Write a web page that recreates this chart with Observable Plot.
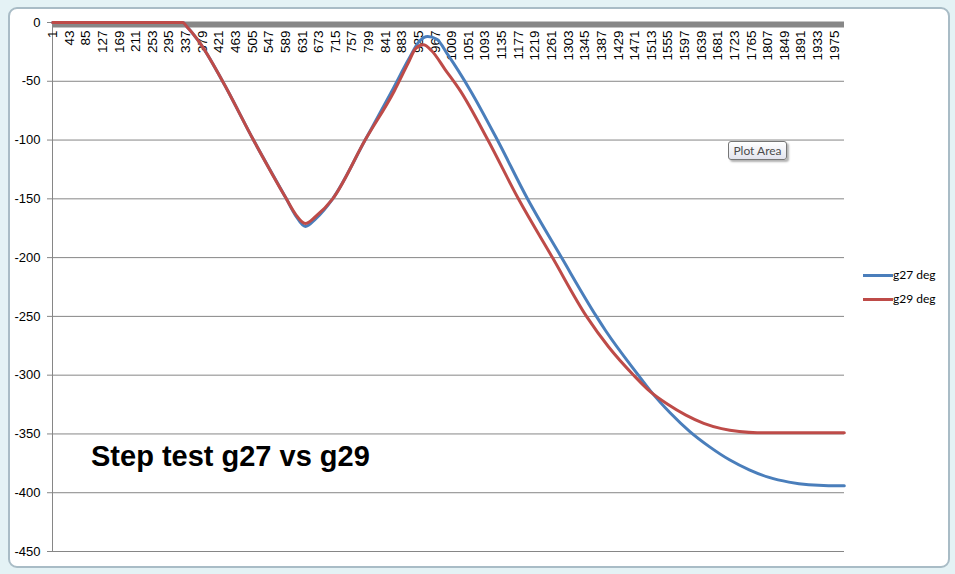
<!DOCTYPE html>
<html><head><meta charset="utf-8">
<script src="https://cdn.jsdelivr.net/npm/d3@7"></script>
<script src="https://cdn.jsdelivr.net/npm/@observablehq/plot@0.6"></script>
<style>
body{margin:0;background:#e4f2f5;}
#wrap{position:relative;width:955px;height:574px;overflow:hidden;background:#e4f2f5;}
#frame{position:absolute;left:8px;top:7px;width:938px;height:557px;background:#fff;border:2px solid #a9bcc6;border-radius:9px;}
#chart{position:absolute;left:0;top:0;}
#title{position:absolute;left:91px;top:442px;font:bold 29px "Liberation Sans",Arial,sans-serif;line-height:29px;color:#000;white-space:nowrap;}
.sw{position:absolute;left:863px;width:30px;height:3px;}
.lt{position:absolute;left:893px;font:12px Lato,sans-serif;line-height:14px;color:#000;white-space:nowrap;}
#tip{position:absolute;left:728px;top:141px;width:57px;height:17px;border:1px solid #767676;border-radius:3px;background:linear-gradient(#ffffff,#e3e4ee);box-shadow:2px 2px 2px rgba(0,0,0,0.3);font:12px Lato,sans-serif;line-height:17px;text-align:center;color:#4c4c4c;}
</style>
</head><body>
<div id="wrap">
  <div id="frame"></div>
  <div id="chart"></div>
  <div id="title">Step test g27 vs g29</div>
  <div class="sw" style="top:274px;background:#4A7EBB"></div>
  <div class="lt" style="top:268px">g27 deg</div>
  <div class="sw" style="top:298px;background:#BE4B48"></div>
  <div class="lt" style="top:292px">g29 deg</div>
  <div id="tip">Plot Area</div>
</div>
<script>
const xTickLabels = [1,43,85,127,169,211,253,295,337,379,421,463,505,547,589,631,673,715,757,799,841,883,925,967,1009,1051,1093,1135,1177,1219,1261,1303,1345,1387,1429,1471,1513,1555,1597,1639,1681,1723,1765,1807,1849,1891,1933,1975];
const yTicks = [0,-50,-100,-150,-200,-250,-300,-350,-400,-450];

const g27Index = [1,329,341,374,430,508,591,614,639,665,708,790,858,902,927,948,970,1000,1056,1124,1200,1286,1374,1397,1480,1512,1560,1610,1660,1710,1760,1810,1860,1910,1960,2000];
const g27Deg   = [0,0,-4,-18,-50,-100,-150,-164,-173.5,-167,-150,-100,-58,-30,-16,-12,-14,-28,-58,-100,-150,-200,-250,-262,-300,-314,-332,-348,-361,-372,-380.5,-387,-391,-393.3,-394,-394];

const g29Index = [1,329,341,374,430,508,591,614,639,665,708,790,864,898,918,937,958,992,1030,1100,1177,1263,1349,1405,1468,1510,1555,1600,1645,1690,1735,1780,2000];
const g29Deg   = [0,0,-4,-18,-50,-100,-150,-163,-171,-165,-150,-100,-58,-35,-22,-19,-24,-40,-58,-100,-150,-200,-250,-276,-300,-314,-325,-334,-341,-345.5,-348,-349,-349];

const s27 = g27Index.map((i,k)=>({i, v:g27Deg[k]}));
const s29 = g29Index.map((i,k)=>({i, v:g29Deg[k]}));

const FONT = "'Liberation Sans', Arial, sans-serif";
const chart = Plot.plot({
  width: 955, height: 574,
  marginLeft: 52, marginRight: 111, marginTop: 22, marginBottom: 23,
  style: {background: "transparent", fontFamily: FONT, fontSize: "12px", color: "#000"},
  x: {type: "linear", domain: [0.5, 2000.5], axis: null},
  y: {domain: [-450, 0], axis: null},
  marks: [
    Plot.ruleY(yTicks.filter(d => d !== 0), {stroke: "#868686", strokeWidth: 1}),
    Plot.ruleX([0.5], {stroke: "#868686", strokeWidth: 1}),
    Plot.axisY({ticks: yTicks, label: null, tickSize: 5, tickPadding: 7, stroke: "#868686", fill: "#000", fontSize: 13, fontFamily: FONT, tickFormat: d => String(d)}),
    Plot.ruleY([0], {stroke: "#878787", strokeWidth: 6, dy: 2}),
    Plot.text(xTickLabels, {x: d => d, y: 0, text: d => String(d), rotate: -90, textAnchor: "end", dy: 8, fontSize: 13.5, fontFamily: FONT, fill: "#000"}),
    Plot.line(s27, {x: "i", y: "v", stroke: "#4A7EBB", strokeWidth: 3, curve: "monotone-x"}),
    Plot.line(s29, {x: "i", y: "v", stroke: "#BE4B48", strokeWidth: 3, curve: "monotone-x"})
  ]
});
document.getElementById("chart").appendChild(chart);
</script>
</body></html>
